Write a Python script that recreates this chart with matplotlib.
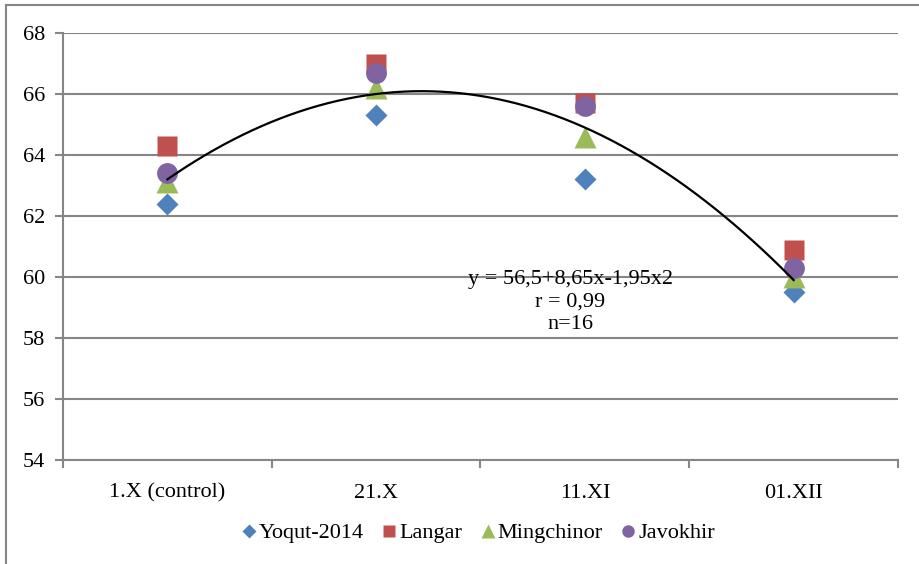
import numpy as np
import matplotlib.pyplot as plt
from matplotlib.lines import Line2D

plt.rcParams['font.family'] = ['Liberation Serif', 'DejaVu Serif']

# data
dates = ["1.X (control)", "21.X", "11.XI", "01.XII"]
yoqut = [62.4, 65.3, 63.2, 59.5]
langar = [64.3, 67.0, 65.7, 60.9]
mingchinor = [63.1, 66.2, 64.6, 60.0]
javokhir = [63.4, 66.7, 65.6, 60.3]

# trend equation shown on the chart: y = a + b*x + c*x^2, x = 1..4
a, b, c = 56.5, 8.65, -1.95

grid_col = "#868686"
fs = 16

fig = plt.figure(figsize=(9.2, 5.64), dpi=100)
ax = fig.add_axes([63 / 920, 1 - 460 / 564, (898 - 63) / 920, (460 - 33) / 564])

x = np.arange(len(dates))
ax.plot(x, yoqut, "D", color="#4F81BD", ms=11, mec="none", label="Yoqut-2014", zorder=3)
ax.plot(x, langar, "s", color="#C0504D", ms=14, mec="none", label="Langar", zorder=3)
ax.plot(x, mingchinor, "^", color="#9BBB59", ms=16, mec="none", label="Mingchinor", zorder=3)
ax.plot(x, javokhir, "o", color="#8064A2", ms=15, mec="none", label="Javokhir", zorder=3)

t = np.linspace(1, 4, 200)
ax.plot(t - 1, a + b * t + c * t ** 2, color="black", lw=1.6, zorder=4)

ax.text(1.93, 59.18, "y = 56,5+8,65x-1,95x2\nr = 0,99\nn=16", ha="center", va="center",
        fontsize=fs, linespacing=1.25, zorder=5)

ax.set_xlim(-0.5, 3.5)
ax.set_ylim(54, 68)
ax.set_yticks(np.arange(54, 69, 2))
ax.yaxis.grid(True, color=grid_col, lw=1.5)
ax.set_axisbelow(True)

ax.set_xticks(x)
ax.set_xticklabels(dates)
ax.set_xticks(np.arange(-0.5, 4, 1), minor=True)
ax.tick_params(axis="x", which="major", length=0, pad=17, labelsize=fs)
ax.tick_params(axis="x", which="minor", length=6, color=grid_col, width=1.5)
ax.tick_params(axis="y", length=6, color=grid_col, width=1.5, pad=7, labelsize=fs)

for s in ["top", "right"]:
    ax.spines[s].set_visible(False)
for s in ["left", "bottom"]:
    ax.spines[s].set_color(grid_col)
    ax.spines[s].set_linewidth(1.5)

handles = [
    Line2D([], [], ls="none", marker="D", color="#4F81BD", ms=7, mec="none"),
    Line2D([], [], ls="none", marker="s", color="#C0504D", ms=9, mec="none"),
    Line2D([], [], ls="none", marker="^", color="#9BBB59", ms=10, mec="none"),
    Line2D([], [], ls="none", marker="o", color="#8064A2", ms=9, mec="none"),
]
fig.legend(handles, ["Yoqut-2014", "Langar", "Mingchinor", "Javokhir"],
           loc="center", bbox_to_anchor=(478 / 920, 1 - 533 / 564), ncol=4,
           frameon=False, fontsize=fs, handlelength=0.7, handletextpad=0.1,
           columnspacing=0.8)

# outer chart frame (only top and left edges are visible)
fig.add_artist(Line2D([6 / 920, 6 / 920], [0, 1 - 5 / 564], color=grid_col, lw=1.5))
fig.add_artist(Line2D([6 / 920, 1], [1 - 5 / 564, 1 - 5 / 564], color=grid_col, lw=1.5))

fig.savefig("out.png", dpi=100)
